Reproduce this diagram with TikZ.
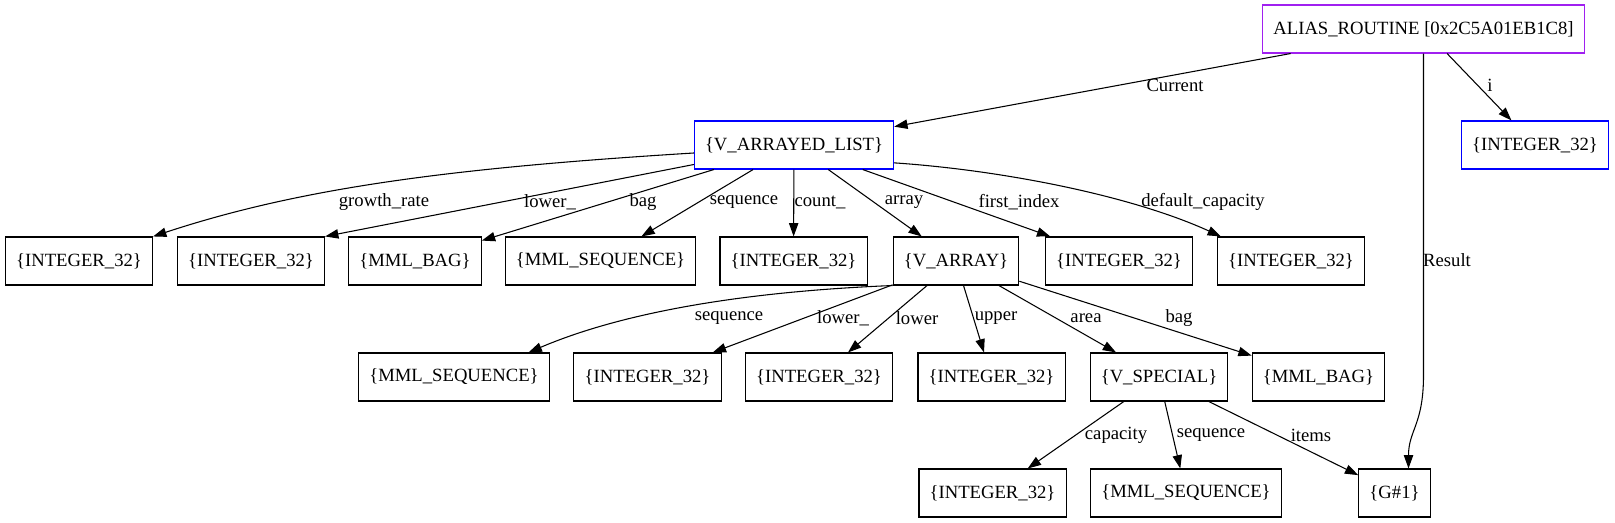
\documentclass[tikz,border=0pt]{standalone}
\usepackage{fontspec}
\setmainfont{Liberation Serif}
\usepackage{xcolor}
\usetikzlibrary{arrows.meta}
\definecolor{gvpurple}{HTML}{A020F0}
\tikzset{
  objbox/.style={draw, line width=0.8pt, rectangle, minimum height=36pt, inner xsep=8pt, inner ysep=0pt, font=\fontsize{14}{16}\selectfont},
  seta/.style={-{Triangle[length=10pt,width=7pt]}, line width=0.8pt},
  rotulo/.style={inner sep=0pt, font=\fontsize{14}{16}\selectfont},
}

\begin{document}
\begin{tikzpicture}[x=0.75pt, y=-0.75pt]
  \useasboundingbox (0,0) rectangle (1615,523);
  % top
  \node[objbox, draw=gvpurple] (alias) at (1423.5,29) {ALIAS\_ROUTINE [0x2C5A01EB1C8]};
  \node[objbox, draw=blue] (list) at (794,145) {\{V\_ARRAYED\_LIST\}};
  \node[objbox, draw=blue] (inti) at (1535,145) {\{INTEGER\_32\}};
  % fields of the list
  \node[objbox] (growth) at (79,261) {\{INTEGER\_32\}};
  \node[objbox] (lowerA) at (251,261) {\{INTEGER\_32\}};
  \node[objbox] (bagA) at (415,261) {\{MML\_BAG\}};
  \node[objbox] (seqA) at (600.5,261) {\{MML\_SEQUENCE\}};
  \node[objbox] (count) at (793.5,261) {\{INTEGER\_32\}};
  \node[objbox] (varray) at (956,261) {\{V\_ARRAY\}};
  \node[objbox] (firstidx) at (1119,261) {\{INTEGER\_32\}};
  \node[objbox] (defcap) at (1291,261) {\{INTEGER\_32\}};
  % fields of the array
  \node[objbox] (seqB) at (454,377) {\{MML\_SEQUENCE\}};
  \node[objbox] (lowerB) at (647.5,377) {\{INTEGER\_32\}};
  \node[objbox] (lowerC) at (819,377) {\{INTEGER\_32\}};
  \node[objbox] (upper) at (991.5,377) {\{INTEGER\_32\}};
  \node[objbox] (vspecial) at (1159,377) {\{V\_SPECIAL\}};
  \node[objbox] (bagB) at (1318.5,377) {\{MML\_BAG\}};
  % fields of the special
  \node[objbox] (capacity) at (992.5,493) {\{INTEGER\_32\}};
  \node[objbox] (seqC) at (1186,493) {\{MML\_SEQUENCE\}};
  \node[objbox] (gone) at (1394.5,493) {\{G\#1\}};

  \draw[seta] (alias) -- (list);
  \draw[seta] (alias) -- (inti);
  \coordinate (rbend) at (1423.5,375);
  \draw[seta] (alias.south) -- (rbend) .. controls (1423.5,425) and (1408.5,430) .. ([xshift=10.5pt]gone.north);
  \node[rotulo] (lcurrent) at (1175,85) {Current};
  \node[rotulo] (li) at (1490,85) {i};
  \node[rotulo] (lresult) at (1447,260) {Result};

  \draw[seta] ([yshift=-6pt]list.west) .. controls (450,168) and (300,188) .. (growth.north east);
  \draw[seta] (list) -- (lowerA.north east);
  \draw[seta] (list) -- (bagA);
  \draw[seta] (list) -- (seqA);
  \draw[seta] (list) -- (count);
  \draw[seta] (list) -- (varray);
  \draw[seta] (list) -- (firstidx);
  \draw[seta] ([yshift=5pt]list.south east) .. controls (1000,170) and (1130,195) .. ([xshift=3pt]defcap.north west);
  \node[rotulo] (lgrowth) at (384,202) {growth\_rate};
  \node[rotulo] (llowerA) at (550,202) {lower\_};
  \node[rotulo] (lbagA) at (643,202) {bag};
  \node[rotulo] (lseqA) at (744,202) {sequence};
  \node[rotulo] (lcount) at (820,202) {count\_};
  \node[rotulo] (larray) at (904,202) {array};
  \node[rotulo] (lfirst) at (1019,202) {first\_index};
  \node[rotulo] (ldefcap) at (1203,202) {default\_capacity};

  \draw[seta] (varray.south west) .. controls (780,290) and (640,305) .. ([xshift=-16pt]seqB.north east);
  \draw[seta] (varray) -- (lowerB);
  \draw[seta] (varray) -- (lowerC);
  \draw[seta] (varray) -- (upper);
  \draw[seta] (varray) -- (vspecial);
  \draw[seta] (varray) -- (bagB);
  \node[rotulo] (lseqB) at (729,318) {sequence};
  \node[rotulo] (llowerB) at (843,318) {lower\_};
  \node[rotulo] (llowerC) at (917,318) {lower};
  \node[rotulo] (lupper) at (996,318) {upper};
  \node[rotulo] (larea) at (1086,318) {area};
  \node[rotulo] (lbagB) at (1179,318) {bag};

  \draw[seta] (vspecial) -- (capacity);
  \draw[seta] (vspecial) -- (seqC);
  \draw[seta] (vspecial) -- (gone);
  \node[rotulo] (lcapacity) at (1116,435) {capacity};
  \node[rotulo] (lseqC) at (1211,435) {sequence};
  \node[rotulo] (litems) at (1311,435) {items};
\end{tikzpicture}
\end{document}
